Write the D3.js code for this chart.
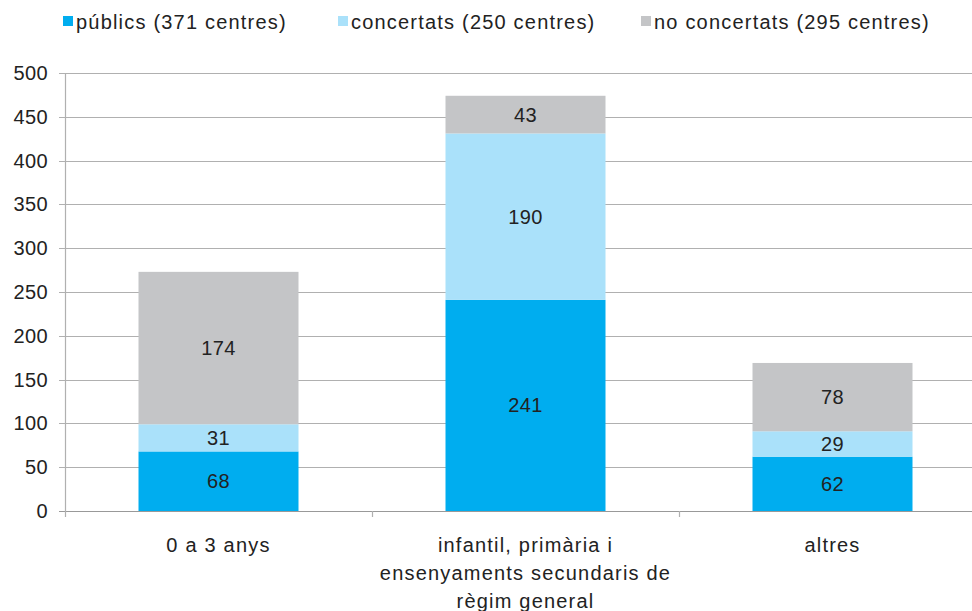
<!DOCTYPE html>
<html>
<head>
<meta charset="utf-8">
<script src="https://cdn.jsdelivr.net/npm/d3@7"></script>
<style>
body { margin: 0; background: #fff; }
text { font-family: "Liberation Sans", Arial, sans-serif; fill: #222; }
</style>
</head>
<body>
<svg id="chart" width="972" height="611"></svg>
<script>
// categories and stacked series
var categories = ["0 a 3 anys", "infantil, primària i ensenyaments secundaris de règim general", "altres"];
var categoryLines = [["0 a 3 anys"], ["infantil, primària i", "ensenyaments secundaris de", "règim general"], ["altres"]];
var publics = [68, 241, 62];
var concertats = [31, 190, 29];
var noConcertats = [174, 43, 78];
var seriesNames = ["públics (371 centres)", "concertats (250 centres)", "no concertats (295 centres)"];
var seriesColors = ["#00adef", "#aae1fa", "#c4c5c7"];
var yTicks = [0, 50, 100, 150, 200, 250, 300, 350, 400, 450, 500];

var svg = d3.select("#chart");
var plotLeft = 65, plotRight = 986, plotTop = 73, plotBottom = 511;

var x = d3.scaleBand().domain(categories).range([plotLeft, plotRight]);
var y = d3.scaleLinear().domain([0, 500]).range([plotBottom, plotTop]);

// gridlines
svg.selectAll("line.grid")
    .data(yTicks)
    .enter()
    .append("line")
    .attr("x1", plotLeft - 6)
    .attr("x2", 972)
    .attr("y1", function(d) { return Math.round(y(d)) + 0.5; })
    .attr("y2", function(d) { return Math.round(y(d)) + 0.5; })
    .attr("stroke", function(d) { return d === 0 ? "#999" : "#b0b0b0"; })
    .attr("stroke-width", 1.2);

// y axis line
svg.append("line")
    .attr("x1", plotLeft + 0.5).attr("x2", plotLeft + 0.5)
    .attr("y1", plotTop).attr("y2", plotBottom + 6)
    .attr("stroke", "#b0b0b0").attr("stroke-width", 1.2);

// x tick marks at band edges
var edges = categories.map(function(c) { return x(c); }).concat([plotRight]);
svg.selectAll("line.xtick")
    .data(edges.slice(1))
    .enter()
    .append("line")
    .attr("x1", function(d) { return Math.round(d) + 0.5; })
    .attr("x2", function(d) { return Math.round(d) + 0.5; })
    .attr("y1", plotBottom).attr("y2", plotBottom + 6)
    .attr("stroke", "#b0b0b0").attr("stroke-width", 1.2);

// y tick labels
svg.selectAll("text.ylab")
    .data(yTicks)
    .enter()
    .append("text")
    .attr("x", 48)
    .attr("y", function(d) { return y(d) + 7; })
    .attr("text-anchor", "end")
    .style("font-size", "20px")
    .style("letter-spacing", "0.4px")
    .text(function(d) { return d; });

// stack
var rows = categories.map(function(c, i) {
    return { cat: c, a: publics[i], b: concertats[i], c: noConcertats[i] };
});
var stack = d3.stack().keys(["a", "b", "c"]);
var layers = stack(rows);
var barW = 160;

layers.forEach(function(layer, li) {
    var g = svg.append("g");
    g.selectAll("rect")
        .data(layer)
        .enter()
        .append("rect")
        .attr("x", function(d) { return x(d.data.cat) + x.bandwidth() / 2 - barW / 2; })
        .attr("width", barW)
        .attr("y", function(d) { return y(d[1]); })
        .attr("height", function(d) { return y(d[0]) - y(d[1]); })
        .attr("fill", seriesColors[li]);
    g.selectAll("text")
        .data(layer)
        .enter()
        .append("text")
        .attr("x", function(d) { return x(d.data.cat) + x.bandwidth() / 2; })
        .attr("y", function(d) { return (y(d[0]) + y(d[1])) / 2 + 7; })
        .attr("text-anchor", "middle")
        .style("font-size", "20px")
        .style("letter-spacing", "0.4px")
        .text(function(d) { return d[1] - d[0]; });
});

// category labels
categories.forEach(function(c, i) {
    svg.append("text")
        .attr("x", x(c) + x.bandwidth() / 2)
        .attr("y", 552)
        .attr("text-anchor", "middle")
        .style("font-size", "20px")
        .style("letter-spacing", "1.2px")
        .selectAll("tspan")
        .data(categoryLines[i])
        .enter()
        .append("tspan")
        .attr("x", x(c) + x.bandwidth() / 2)
        .attr("dy", function(d, j) { return j === 0 ? 0 : 28; })
        .text(function(d) { return d; });
});

// legend
var legendX = [63, 338, 641];
var legend = svg.selectAll("g.legend")
    .data(seriesNames)
    .enter()
    .append("g")
    .attr("transform", function(d, i) { return "translate(" + legendX[i] + ",0)"; });
legend.append("rect")
    .attr("y", 16).attr("width", 10).attr("height", 10)
    .attr("fill", function(d, i) { return seriesColors[i]; });
legend.append("text")
    .attr("x", 13).attr("y", 29)
    .style("font-size", "20px")
    .style("letter-spacing", "1.2px")
    .text(function(d) { return d; });
</script>
</body>
</html>
